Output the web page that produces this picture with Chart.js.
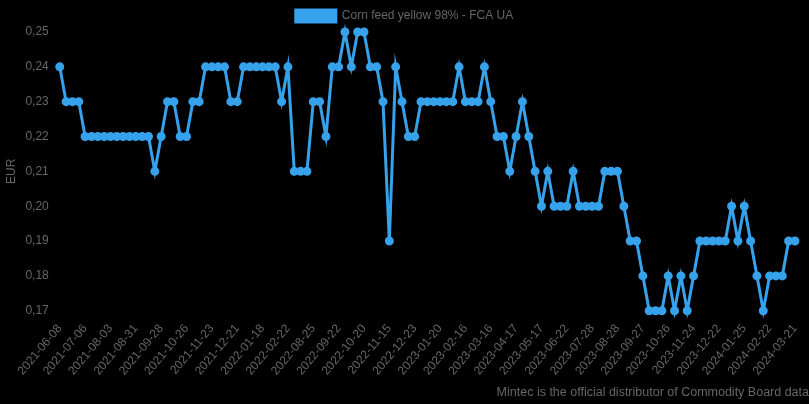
<!DOCTYPE html>
<html>
<head>
<meta charset="utf-8">
<style>
  html, body { margin: 0; padding: 0; background: #000; }
  #wrap { width: 809px; height: 404px; position: relative; }
</style>
<script src="https://cdn.jsdelivr.net/npm/chart.js@4.4.1/dist/chart.umd.min.js"></script>
</head>
<body>
<div id="wrap"><canvas id="ch_corn"></canvas></div>
<script>
// Tick dates shown on the x axis (one every 4 observations)
const tickDates = [
  '2021-06-08', '2021-07-06', '2021-08-03', '2021-08-31', '2021-09-28',
  '2021-10-26', '2021-11-23', '2021-12-21', '2022-01-18', '2022-02-22',
  '2022-08-25', '2022-09-22', '2022-10-20', '2022-11-15', '2022-12-23',
  '2023-01-20', '2023-02-16', '2023-03-16', '2023-04-17', '2023-05-17',
  '2023-06-22', '2023-07-28', '2023-08-28', '2023-09-27', '2023-10-26',
  '2023-11-24', '2023-12-22', '2024-01-25', '2024-02-22', '2024-03-21'
];
const tickEvery = 4;

// Corn feed yellow 98% - FCA UA, EUR
const prices = [
  0.24, 0.23, 0.23, 0.23, 0.22, 0.22, 0.22, 0.22, 0.22, 0.22,
  0.22, 0.22, 0.22, 0.22, 0.22, 0.21, 0.22, 0.23, 0.23, 0.22,
  0.22, 0.23, 0.23, 0.24, 0.24, 0.24, 0.24, 0.23, 0.23, 0.24,
  0.24, 0.24, 0.24, 0.24, 0.24, 0.23, 0.24, 0.21, 0.21, 0.21,
  0.23, 0.23, 0.22, 0.24, 0.24, 0.25, 0.24, 0.25, 0.25, 0.24,
  0.24, 0.23, 0.19, 0.24, 0.23, 0.22, 0.22, 0.23, 0.23, 0.23,
  0.23, 0.23, 0.23, 0.24, 0.23, 0.23, 0.23, 0.24, 0.23, 0.22,
  0.22, 0.21, 0.22, 0.23, 0.22, 0.21, 0.20, 0.21, 0.20, 0.20,
  0.20, 0.21, 0.20, 0.20, 0.20, 0.20, 0.21, 0.21, 0.21, 0.20,
  0.19, 0.19, 0.18, 0.17, 0.17, 0.17, 0.18, 0.17, 0.18, 0.17,
  0.18, 0.19, 0.19, 0.19, 0.19, 0.19, 0.20, 0.19, 0.20, 0.19,
  0.18, 0.17, 0.18, 0.18, 0.18, 0.19, 0.19
];

const yTicks = { min: 0.17, max: 0.25, step: 0.01 };
const seriesLabel = 'Corn feed yellow 98% - FCA UA';
const footerText = 'Mintec is the official distributor of Commodity Board data';

const BLUE = '#36A2EB';
const GREY = '#666';

// one label per observation; only every 4th carries a date
const labels = prices.map((_, i) => (i % tickEvery === 0 ? (tickDates[i / tickEvery] || '') : ''));

Chart.defaults.color = GREY;
Chart.defaults.font.family = "'Liberation Sans', Arial, sans-serif";
Chart.defaults.font.size = 12;

new Chart(document.getElementById('ch_corn').getContext('2d'), {
  type: 'line',
  data: {
    labels,
    datasets: [{
      label: seriesLabel,
      data: prices,
      borderColor: BLUE,
      backgroundColor: BLUE,
      borderWidth: 3,
      pointRadius: 3,
      pointBackgroundColor: BLUE,
      pointBorderColor: BLUE,
      tension: 0,
      fill: false,
      clip: false
    }]
  },
  options: {
    responsive: true,
    maintainAspectRatio: false,
    animation: false,
    plugins: {
      legend: { position: 'top', labels: { boxWidth: 40, color: GREY } },
      title: {
        display: true,
        text: footerText,
        position: 'bottom',
        align: 'end',
        color: GREY,
        font: { size: 12.5, weight: 'normal' },
        padding: { top: 4, bottom: 4 }
      },
      tooltip: { enabled: false }
    },
    scales: {
      x: {
        grid: { display: false },
        border: { display: false },
        ticks: { autoSkip: false, minRotation: 50, maxRotation: 50, color: GREY },
        // keep the plot clear of the right edge without moving legend/footer
        afterFit: s => { s.paddingRight = Math.max(s.paddingRight, 14); }
      },
      y: {
        min: yTicks.min,
        max: yTicks.max,
        grid: { display: false },
        border: { display: false },
        title: { display: true, text: 'EUR', color: GREY },
        ticks: {
          stepSize: yTicks.step,
          color: GREY,
          callback: v => v.toFixed(2).replace('.', ',')
        }
      }
    }
  }
});
</script>
</body>
</html>
